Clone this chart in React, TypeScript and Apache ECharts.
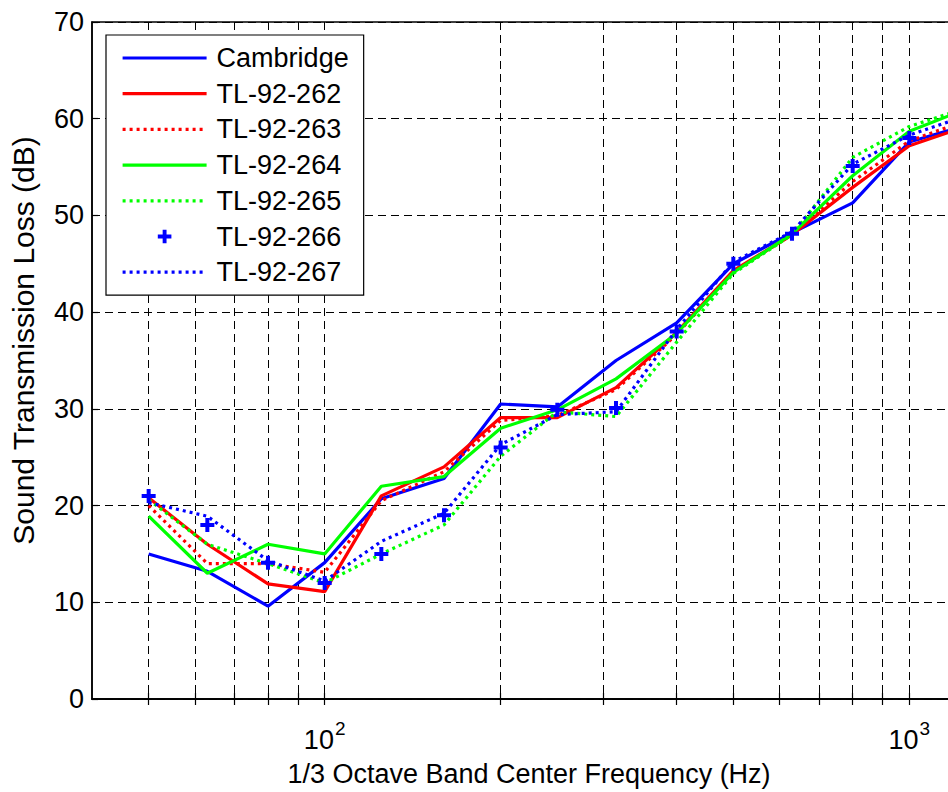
import React, { useEffect, useRef } from 'react';
import * as echarts from 'echarts';

const FONT = '"Liberation Sans", Arial, Helvetica, sans-serif';

// 1/3 octave band centre frequencies (Hz)
const freqs = [50, 63, 80, 100, 125, 160, 200, 250, 315, 400, 500, 630, 800, 1000, 1250];

// Sound transmission loss (dB)
const cambridge = [15.0, 13.2, 9.6, 14.1, 20.7, 22.8, 30.5, 30.2, 35.0, 38.9, 45.0, 48.2, 51.3, 57.6, 59.3];
const tl262 = [20.8, 16.0, 11.9, 11.1, 21.0, 24.0, 29.1, 29.1, 32.2, 37.9, 44.3, 48.0, 52.9, 57.2, 59.2];
const tl263 = [20.0, 14.0, 14.0, 13.1, 20.5, 23.5, 28.8, 29.3, 32.0, 37.7, 44.2, 48.0, 53.5, 57.7, 59.8];
const tl264 = [18.9, 13.0, 16.0, 15.0, 22.0, 23.0, 28.0, 29.9, 33.1, 37.8, 44.1, 48.1, 54.1, 58.7, 61.0];
const tl265 = [20.6, 16.0, 14.0, 12.0, 15.0, 18.0, 25.1, 29.7, 29.2, 36.9, 44.0, 48.0, 56.0, 59.2, 61.1];
const tl266 = [21.0, 18.0, 14.1, 12.0, 15.0, 19.0, 26.0, 29.9, 30.1, 38.0, 45.0, 48.1, 55.1, 58.0, 60.0];
const tl267 = [20.3, 18.9, 14.3, 12.2, 16.3, 19.2, 26.3, 29.4, 29.7, 38.2, 45.2, 48.3, 55.3, 58.3, 60.3];

const seriesNames = ['Cambridge', 'TL-92-262', 'TL-92-263', 'TL-92-264', 'TL-92-265', 'TL-92-266', 'TL-92-267'];
const markerSeries = 'TL-92-266';

// axis ticks / grid positions and labels
const gridFreqs = [50, 60, 70, 80, 90, 100, 200, 300, 400, 500, 600, 700, 800, 900, 1000];
const labelFreqs = [100, 1000];
const xMin = 40;
const xMax = 1250;
const yMin = 0;
const yMax = 70;
const yStep = 10;

const BLUE = '#0000ff';
const RED = '#ff0000';
const GREEN = '#00ff00';
const PLUS = 'path://M5,0H9V5H14V9H9V14H5V9H0V5H5Z';

const CHART_W = 1000;
const CHART_H = 792;

const pairs = (ys: number[]) => freqs.map((f, i) => [f, ys[i]]);

export default function App() {
  const ref = useRef<HTMLDivElement>(null);

  useEffect(() => {
    if (!ref.current) return;
    const chart = echarts.init(ref.current, undefined, { renderer: 'svg' });

    const dash = { color: '#000', width: 1, type: [8, 5] as number[] };
    const tickStyle = { color: '#000', width: 1.2 };

    const lineSeries = (name: string, data: number[], color: string, dotted: boolean) => ({
      name,
      type: 'line',
      data: pairs(data),
      symbol: 'none',
      showSymbol: false,
      smooth: false,
      color,
      lineStyle: { color, width: 3.2, type: dotted ? [3, 4] : 'solid', cap: 'butt' },
      emphasis: { disabled: true },
      z: 3,
    });

    const option: any = {
      animation: false,
      backgroundColor: '#ffffff',
      textStyle: { fontFamily: FONT, color: '#000' },
      grid: {
        left: 92,
        top: 22,
        right: CHART_W - 966,
        bottom: CHART_H - 702,
        show: true,
        borderColor: '#000',
        borderWidth: 1.5,
        backgroundColor: 'transparent',
      },
      legend: {
        orient: 'vertical',
        left: 106,
        top: 35,
        padding: [8, 15, 8, 15],
        backgroundColor: '#ffffff',
        borderColor: '#000',
        borderWidth: 1.2,
        itemWidth: 84,
        itemHeight: 17,
        itemGap: 5.7,
        lineStyle: { width: 'inherit' },
        textStyle: { fontFamily: FONT, fontSize: 27, color: '#000', lineHeight: 30, padding: [0, 0, 0, 5] },
        selectedMode: false,
        data: seriesNames.map((n) =>
          n === markerSeries
            ? { name: n }
            : { name: n, itemStyle: { opacity: 0, color: 'transparent', borderWidth: 0 } }
        ),
        z: 10,
      },
      xAxis: [
        {
          type: 'log',
          logBase: 10,
          min: xMin,
          max: xMax,
          position: 'bottom',
          name: '1/3 Octave Band Center Frequency (Hz)',
          nameLocation: 'middle',
          nameGap: 61,
          nameTextStyle: { fontFamily: FONT, fontSize: 27, color: '#000' },
          axisLine: { show: true, lineStyle: { color: '#000', width: 1.5 } },
          axisTick: { show: true, inside: true, length: 6, customValues: gridFreqs, lineStyle: tickStyle },
          minorTick: { show: false },
          minorSplitLine: { show: false },
          axisLabel: {
            show: true,
            customValues: labelFreqs,
            margin: 27,
            formatter: (v: number) => {
              const e = Math.log10(v);
              if (Math.abs(e - Math.round(e)) > 1e-6) return '';
              return '{b|10}{s|' + Math.round(e) + '}';
            },
            rich: {
              b: { fontFamily: FONT, fontSize: 27, color: '#000', verticalAlign: 'bottom', lineHeight: 27 },
              s: { fontFamily: FONT, fontSize: 19, color: '#000', verticalAlign: 'bottom', lineHeight: 19, padding: [0, 0, 15, 1] },
            },
          },
          splitLine: { show: true, lineStyle: dash },
        },
        {
          type: 'log',
          logBase: 10,
          min: xMin,
          max: xMax,
          position: 'top',
          axisLine: { show: true, lineStyle: { color: '#000', width: 1.5 } },
          axisTick: { show: true, inside: true, length: 6, customValues: gridFreqs, lineStyle: tickStyle },
          minorTick: { show: false },
          axisLabel: { show: false },
          splitLine: { show: false },
        },
      ],
      yAxis: [
        {
          type: 'value',
          min: yMin,
          max: yMax,
          interval: yStep,
          position: 'left',
          name: 'Sound Transmission Loss (dB)',
          nameLocation: 'middle',
          nameGap: 54,
          nameTextStyle: { fontFamily: FONT, fontSize: 30, color: '#000', padding: [0, 0, 0, 40] },
          axisLine: { show: true, lineStyle: { color: '#000', width: 1.5 } },
          axisTick: { show: true, inside: true, length: 6, lineStyle: tickStyle },
          axisLabel: { fontFamily: FONT, fontSize: 27, color: '#000', margin: 8 },
          splitLine: { show: true, lineStyle: dash },
        },
        {
          type: 'value',
          min: yMin,
          max: yMax,
          interval: yStep,
          position: 'right',
          axisLine: { show: true, lineStyle: { color: '#000', width: 1.5 } },
          axisTick: { show: true, inside: true, length: 6, lineStyle: tickStyle },
          axisLabel: { show: false },
          splitLine: { show: false },
        },
      ],
      series: [
        lineSeries('Cambridge', cambridge, BLUE, false),
        lineSeries('TL-92-262', tl262, RED, false),
        lineSeries('TL-92-263', tl263, RED, true),
        lineSeries('TL-92-264', tl264, GREEN, false),
        lineSeries('TL-92-265', tl265, GREEN, true),
        {
          name: markerSeries,
          type: 'line',
          data: pairs(tl266),
          symbol: PLUS,
          symbolSize: 14,
          showSymbol: true,
          color: BLUE,
          itemStyle: { color: BLUE },
          lineStyle: { width: 0, opacity: 0 },
          emphasis: { disabled: true },
          z: 4,
        },
        lineSeries('TL-92-267', tl267, BLUE, true),
      ],
    };

    chart.setOption(option);
    return () => chart.dispose();
  }, []);

  return (
    <div style={{ position: 'fixed', left: 0, top: 0, width: 948, height: 792, overflow: 'hidden', background: '#fff' }}>
      <div ref={ref} style={{ width: CHART_W, height: CHART_H }} />
    </div>
  );
}
